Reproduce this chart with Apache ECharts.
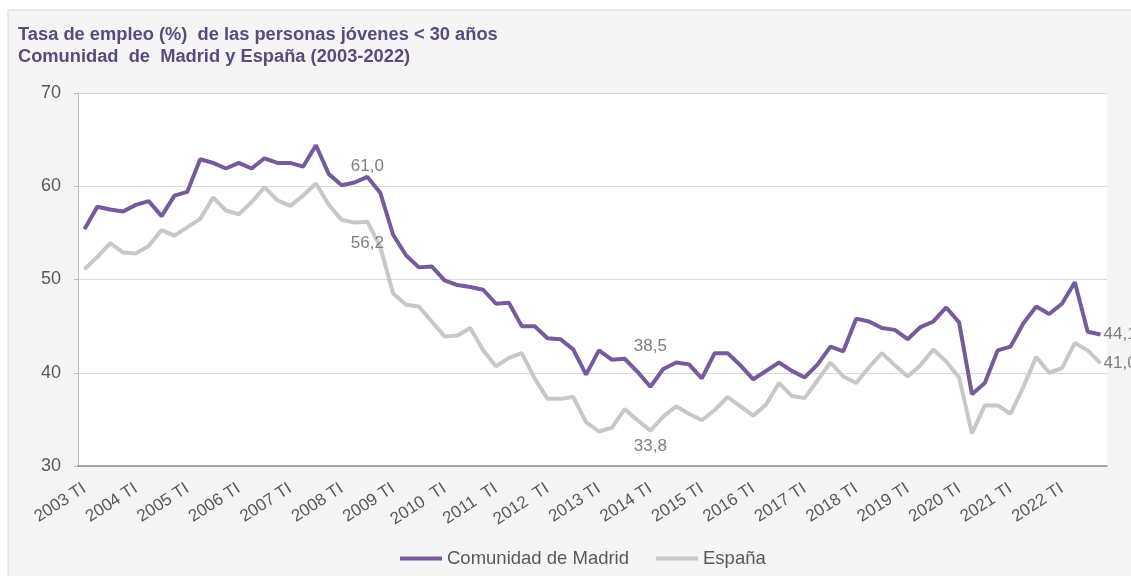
<!DOCTYPE html>
<html>
<head>
<meta charset="utf-8">
<script src="https://cdn.jsdelivr.net/npm/echarts@6/dist/echarts.min.js"></script>
<style>
  html, body { margin: 0; padding: 0; background: #fff; }
  #chart { width: 1131px; height: 576px; }
</style>
</head>
<body>
<div id="chart"></div>
<script>
const years = ['2003', '2004', '2005', '2006', '2007', '2008', '2009', '2010', '2011', '2012',
  '2013', '2014', '2015', '2016', '2017', '2018', '2019', '2020', '2021', '2022']
const quarters = ['TI', 'TII', 'TIII', 'TIV']
const tickLabels = ['2003 TI', '2004 TI', '2005 TI', '2006 TI', '2007 TI', '2008 TI', '2009 TI', '2010  TI',
  '2011  TI', '2012  TI', '2013 TI', '2014 TI', '2015 TI', '2016 TI', '2017 TI', '2018 TI', '2019 TI',
  '2020 TI', '2021 TI', '2022 TI']

const madrid = [
  55.4, 57.8, 57.5, 57.3, 58.0, 58.4, 56.8, 59.0,
  59.4, 62.9, 62.5, 61.9, 62.5, 61.9, 63.0, 62.5,
  62.5, 62.1, 64.4, 61.3, 60.1, 60.4, 61.0, 59.3,
  54.8, 52.6, 51.3, 51.4, 49.9, 49.4, 49.2, 48.9,
  47.4, 47.5, 45.0, 45.0, 43.7, 43.6, 42.5, 39.8,
  42.4, 41.4, 41.5, 40.1, 38.5, 40.4, 41.1, 40.9,
  39.4, 42.1, 42.1, 40.8, 39.3, 40.2, 41.1, 40.2,
  39.5, 40.9, 42.8, 42.3, 45.8, 45.5, 44.8, 44.6,
  43.6, 44.9, 45.5, 47.0, 45.4, 37.7, 38.9, 42.4,
  42.8, 45.3, 47.1, 46.3, 47.4, 49.7, 44.4, 44.1
]
const espana = [
  51.1, 52.4, 53.9, 52.9, 52.8, 53.6, 55.3, 54.7,
  55.6, 56.5, 58.8, 57.4, 57.0, 58.3, 59.9, 58.5,
  57.9, 59.0, 60.3, 58.0, 56.4, 56.1, 56.2, 53.5,
  48.5, 47.3, 47.1, 45.5, 43.9, 44.0, 44.8, 42.4,
  40.7, 41.6, 42.1, 39.4, 37.2, 37.2, 37.4, 34.7,
  33.7, 34.1, 36.1, 34.9, 33.8, 35.3, 36.4, 35.6,
  34.9, 36.0, 37.4, 36.4, 35.4, 36.6, 38.9, 37.5,
  37.3, 39.2, 41.1, 39.6, 38.9, 40.6, 42.1, 40.8,
  39.6, 40.8, 42.5, 41.2, 39.5, 33.5, 36.5, 36.5,
  35.6, 38.5, 41.7, 40.0, 40.5, 43.2, 42.4, 41.0
]
// points that carry a value label: [position, distance]
const madridLabels = { 22: ['top', 2], 44: ['top', 32], 79: ['right', 3] }
const espanaLabels = { 22: ['bottom', 13], 44: ['bottom', 7], 79: ['right', 3] }

const categories = []
years.forEach(y => quarters.forEach(q => categories.push(y + ' ' + q)))

function withLabels(values, marks) {
  return values.map((v, i) => {
    if (!marks[i]) return v
    return {
      value: v,
      label: {
        show: true,
        position: marks[i][0],
        distance: marks[i][1],
        formatter: p => p.value.toFixed(1).replace('.', ','),
        color: '#7f7f7f',
        fontSize: 17,
        fontFamily: 'Liberation Sans, Arial, sans-serif'
      }
    }
  })
}

const chart = echarts.init(document.getElementById('chart'))
chart.setOption({
  animation: false,
  textStyle: { fontFamily: 'Liberation Sans, Arial, sans-serif' },
  graphic: [{
    type: 'rect',
    z: -10,
    shape: { x: 8, y: 10, width: 1200, height: 600 },
    style: { fill: '#f5f5f5', stroke: '#d9d9d9', lineWidth: 1 }
  }],
  title: {
    text: 'Tasa de empleo (%)  de las personas jóvenes < 30 años\nComunidad  de  Madrid y España (2003-2022)',
    left: 13,
    top: 19,
    textStyle: {
      color: '#5b4a7e',
      fontSize: 18.3,
      fontWeight: 'bold',
      lineHeight: 22,
      fontFamily: 'Liberation Sans, Arial, sans-serif'
    }
  },
  legend: {
    bottom: 3,
    left: 395,
    itemWidth: 42,
    itemHeight: 4,
    itemGap: 27,
    icon: 'rect',
    textStyle: { color: '#595959', fontSize: 18.5 },
    data: ['Comunidad de Madrid', 'España']
  },
  grid: {
    left: 78,
    right: 24,
    top: 93,
    bottom: 110,
    show: true,
    backgroundColor: '#ffffff',
    borderWidth: 0
  },
  xAxis: {
    type: 'category',
    data: categories,
    boundaryGap: true,
    axisLine: { lineStyle: { color: '#8c8c8c', width: 1.5 } },
    axisTick: { show: false },
    axisLabel: {
      interval: 3,
      rotate: 33,
      color: '#595959',
      fontSize: 17,
      margin: 21,
      formatter: (v, i) => tickLabels[i / 4] || v
    }
  },
  yAxis: {
    type: 'value',
    min: 30,
    max: 70,
    interval: 10,
    axisLine: { show: true, lineStyle: { color: '#bfbfbf' } },
    axisTick: { show: true, length: 4, lineStyle: { color: '#bfbfbf' } },
    splitLine: { lineStyle: { color: '#d9d9d9', width: 1 } },
    axisLabel: { color: '#595959', fontSize: 18, margin: 17 }
  },
  series: [
    {
      name: 'Comunidad de Madrid',
      type: 'line',
      data: withLabels(madrid, madridLabels),
      symbol: 'circle',
      symbolSize: 0,
      showSymbol: true,
      lineStyle: { color: '#775a9b', width: 4 },
      itemStyle: { color: '#775a9b' },
      z: 3
    },
    {
      name: 'España',
      type: 'line',
      data: withLabels(espana, espanaLabels),
      symbol: 'circle',
      symbolSize: 0,
      showSymbol: true,
      lineStyle: { color: '#c8c8c8', width: 4 },
      itemStyle: { color: '#c8c8c8' },
      z: 2
    }
  ]
})
</script>
</body>
</html>
